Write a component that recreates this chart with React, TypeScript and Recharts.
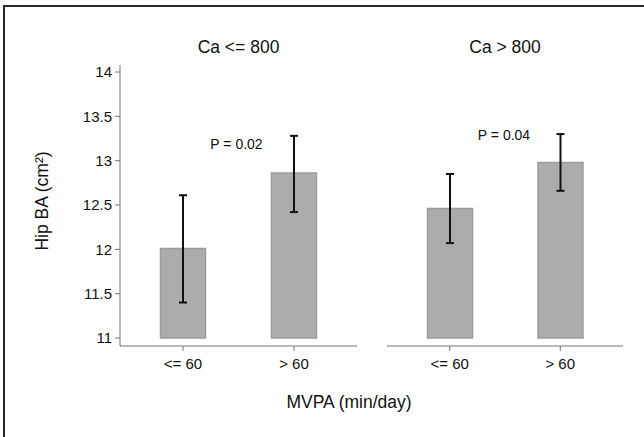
import { BarChart, Bar, XAxis, YAxis, ErrorBar } from 'recharts'

const groups = ['<= 60', '> 60']
const lowCaMeans = [12.01, 12.86]
const lowCaLower = [11.4, 12.42]
const lowCaUpper = [12.61, 13.28]
const highCaMeans = [12.46, 12.98]
const highCaLower = [12.07, 12.66]
const highCaUpper = [12.85, 13.3]
const yTicks = [11, 11.5, 12, 12.5, 13, 13.5, 14]
const panelTitles = ['Ca <= 800', 'Ca > 800']
const pLabels = ['P = 0.02', 'P = 0.04']

const FONT = '"Liberation Sans", Arial, sans-serif'

const buildRows = (means: number[], lower: number[], upper: number[]) =>
  groups.map((g, i) => ({
    group: g,
    mean: means[i],
    err: [means[i] - lower[i], upper[i] - means[i]],
  }))

const lowCaRows = buildRows(lowCaMeans, lowCaLower, lowCaUpper)
const highCaRows = buildRows(highCaMeans, highCaLower, highCaUpper)

function Panel({ rows, showY, width }: { rows: any[]; showY: boolean; width: number }) {
  return (
    <BarChart width={width} height={380} data={rows} margin={{ top: 65, right: 0, left: 0, bottom: 0 }}>
      <XAxis
        dataKey="group"
        height={34}
        padding={{ left: 7.5, right: 7.5 }}
        stroke="#777"
        tickSize={5}
        tickMargin={7}
        tick={{ fill: '#111', fontSize: 15, fontFamily: FONT }}
      />
      <YAxis
        hide={!showY}
        width={60}
        domain={[11, 14]}
        ticks={yTicks}
        padding={{ top: 7, bottom: 8 }}
        stroke="#777"
        tickSize={5}
        tickMargin={3}
        tick={{ fill: '#111', fontSize: 15, fontFamily: FONT }}
      />
      <Bar dataKey="mean" fill="#acacac" stroke="#9c9c9c" strokeWidth={1.5} barSize={45} isAnimationActive={false}>
        <ErrorBar dataKey="err" direction="y" width={4} strokeWidth={2} stroke="#111" />
      </Bar>
    </BarChart>
  )
}

const textStyle = (x: number, y: number, size: number, rotate = 0): React.CSSProperties => ({
  position: 'absolute',
  left: x,
  top: y,
  transform: `translate(-50%, -50%) rotate(${rotate}deg)`,
  fontFamily: FONT,
  fontSize: size,
  lineHeight: 1,
  color: '#111',
  whiteSpace: 'nowrap',
})

export default function App() {
  return (
    <div style={{ position: 'absolute', left: 0, top: 0, width: 644, height: 437, background: '#fff', overflow: 'hidden' }}>
      <div style={{ position: 'absolute', left: 3, top: 5, width: 800, height: 800, border: '2px solid #2a2a2a' }} />
      <div style={{ position: 'absolute', left: 60, top: 0 }}>
        <Panel rows={lowCaRows} showY width={297} />
      </div>
      <div style={{ position: 'absolute', left: 387, top: 0 }}>
        <Panel rows={highCaRows} showY={false} width={236} />
      </div>
      <div style={textStyle(238.5, 48, 17.5)}>{panelTitles[0]}</div>
      <div style={textStyle(505, 48, 17.5)}>{panelTitles[1]}</div>
      <div style={textStyle(236.5, 143.5, 14)}>{pLabels[0]}</div>
      <div style={textStyle(504, 135, 14)}>{pLabels[1]}</div>
      <div style={textStyle(43, 201, 17.5, -90)}>Hip BA (cm²)</div>
      <div style={textStyle(349, 403, 17.5)}>MVPA (min/day)</div>
    </div>
  )
}
